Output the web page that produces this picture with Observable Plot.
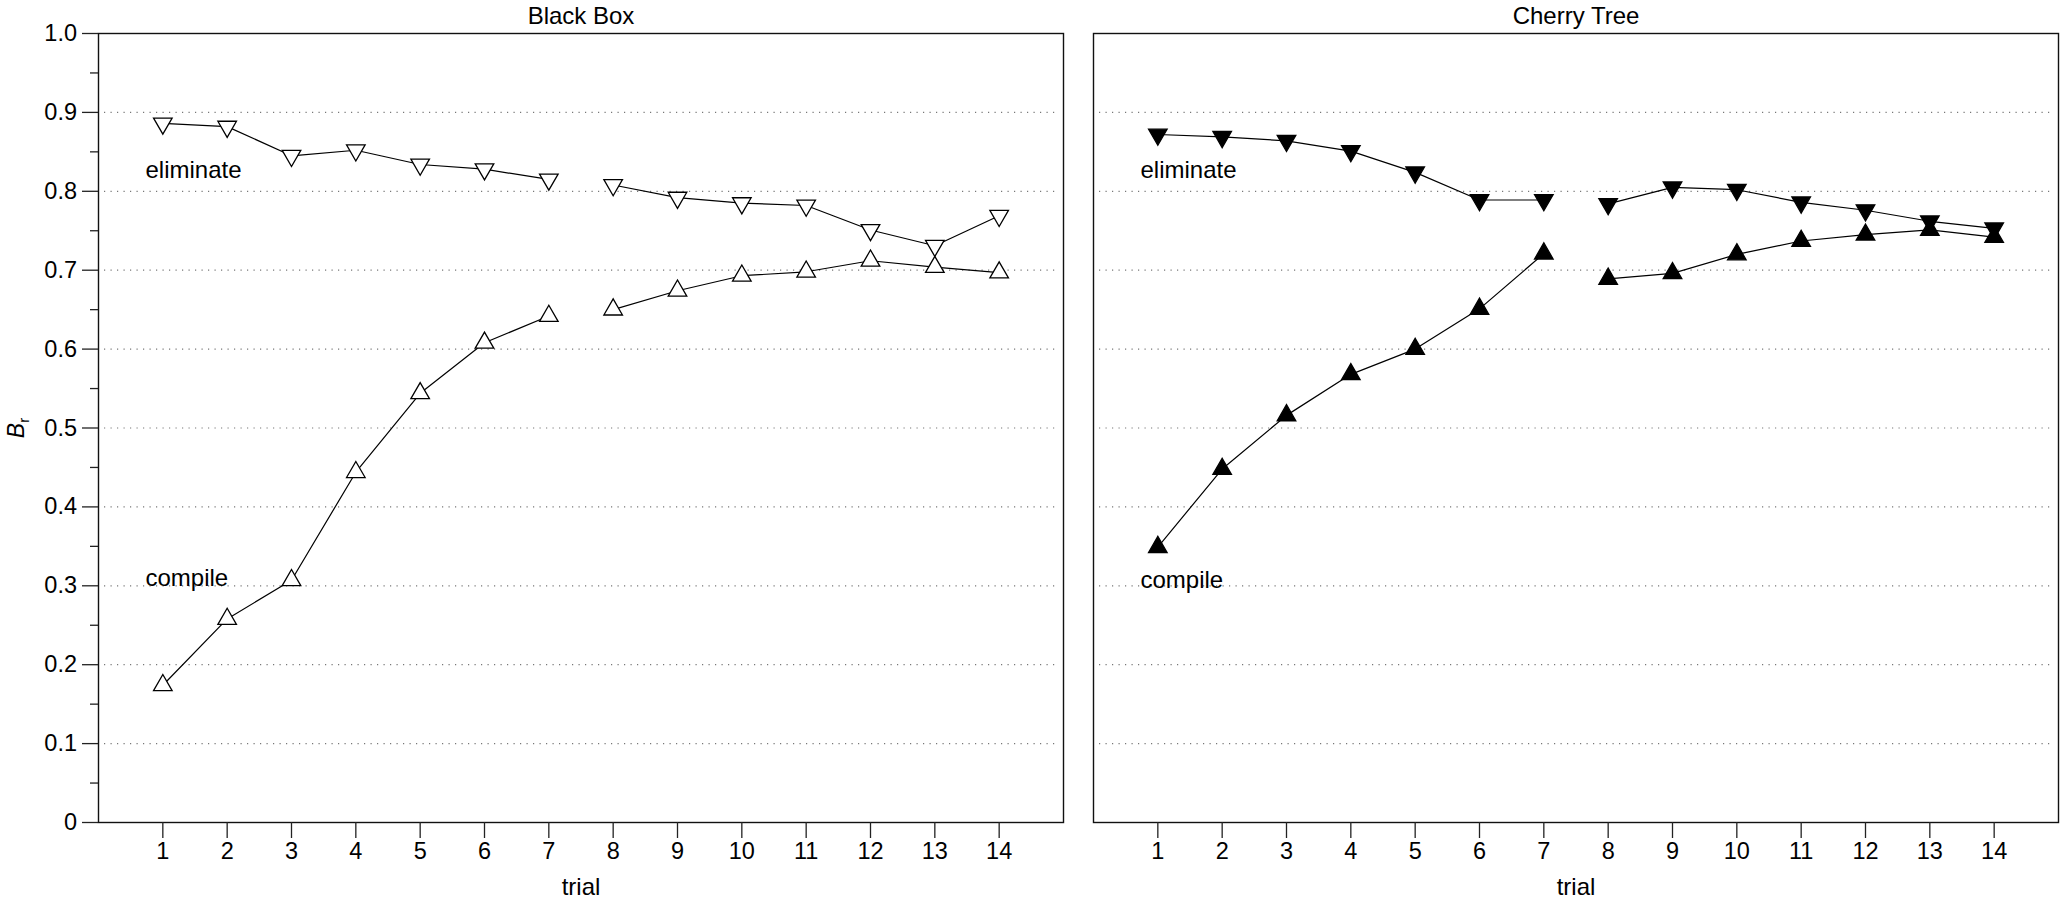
<!DOCTYPE html>
<html>
<head>
<meta charset="utf-8">
<script src="https://cdn.jsdelivr.net/npm/d3@7"></script>
<script src="https://cdn.jsdelivr.net/npm/@observablehq/plot@0.6"></script>
<style>
  body { margin: 0; background: #fff; }
  #chart svg { display: block; }
</style>
</head>
<body>
<div id="chart"></div>
<script>
// ---- data ----
const panels = ["Black Box", "Cherry Tree"];
const trials = [1, 2, 3, 4, 5, 6, 7, 8, 9, 10, 11, 12, 13, 14];
const blackBoxCompile   = [0.174, 0.258, 0.307, 0.444, 0.544, 0.608, 0.642, 0.650, 0.674, 0.693, 0.698, 0.712, 0.704, 0.697];
const blackBoxEliminate = [0.886, 0.882, 0.845, 0.852, 0.834, 0.828, 0.815, 0.808, 0.792, 0.785, 0.782, 0.751, 0.731, 0.769];
const cherryCompile     = [0.349, 0.448, 0.516, 0.568, 0.600, 0.651, 0.721, 0.689, 0.696, 0.720, 0.737, 0.745, 0.751, 0.742];
const cherryEliminate   = [0.872, 0.869, 0.864, 0.851, 0.824, 0.789, 0.789, 0.784, 0.805, 0.802, 0.786, 0.776, 0.762, 0.753];
const yTicks = [0, 0.1, 0.2, 0.3, 0.4, 0.5, 0.6, 0.7, 0.8, 0.9, 1.0];
const yMinorTicks = [0.05, 0.15, 0.25, 0.35, 0.45, 0.55, 0.65, 0.75, 0.85, 0.95];
const gridValues = [0.1, 0.2, 0.3, 0.4, 0.5, 0.6, 0.7, 0.8, 0.9];
const seriesLabels = [
  {panel: "Black Box", text: "eliminate", x: 0.73, y: 0.827},
  {panel: "Black Box", text: "compile", x: 0.73, y: 0.309},
  {panel: "Cherry Tree", text: "eliminate", x: 0.73, y: 0.827},
  {panel: "Cherry Tree", text: "compile", x: 0.73, y: 0.307}
];

// ---- build table ----
function rows(panel, series, values) {
  return trials.map((t, i) => ({panel, series, trial: t, value: values[i], block: t <= 7 ? "a" : "b"}));
}
const bbC = rows("Black Box", "compile", blackBoxCompile);
const bbE = rows("Black Box", "eliminate", blackBoxEliminate);
const ctC = rows("Cherry Tree", "compile", cherryCompile);
const ctE = rows("Cherry Tree", "eliminate", cherryEliminate);
const all = [...bbC, ...bbE, ...ctC, ...ctE];

// downward-pointing triangle symbol (mirror of d3.symbolTriangle)
const triangleDown = {
  draw(context, size) {
    const y = -Math.sqrt(size / (Math.sqrt(3) * 3));
    context.moveTo(0, -y * 2);
    context.lineTo(-Math.sqrt(3) * y, y);
    context.lineTo(Math.sqrt(3) * y, y);
    context.closePath();
  }
};

const FONT = "'Liberation Sans', Arial, Helvetica, sans-serif";
const R = 6.9;

const chart = Plot.plot({
  width: 2067,
  height: 906,
  marginLeft: 98,
  marginRight: 8,
  marginTop: 33,
  marginBottom: 84,
  style: {fontFamily: FONT, fontSize: "23px", color: "#000", background: "#fff"},
  fx: {domain: panels, paddingInner: 0.0301, paddingOuter: 0, axis: null, label: null},
  x: {domain: [0, 15], label: null},
  y: {domain: [0, 1], label: null},
  marks: [
    Plot.ruleY(gridValues, {stroke: "#777", strokeWidth: 1.2, strokeDasharray: "1.2,5.3", insetLeft: 6, insetRight: 6}),
    Plot.frame({stroke: "#111", strokeWidth: 1.4}),
    Plot.axisY(yTicks, {tickSize: 16, tickPadding: 5.5, stroke: "#222", strokeWidth: 1.3,
      tickFormat: d => d === 0 ? "0" : d.toFixed(1), fontSize: 23.5, label: null}),
    Plot.axisY(yMinorTicks, {tickSize: 8, stroke: "#222", strokeWidth: 1.3, tickFormat: () => "", label: null}),
    Plot.axisX(trials, {tickSize: 16, tickPadding: 4, stroke: "#222", strokeWidth: 1.3,
      tickFormat: d => String(d), fontSize: 23.5, label: null}),
    Plot.text(panels, {fx: d => d, text: d => d, frameAnchor: "top", dy: -17, lineAnchor: "middle", fontSize: 24}),
    Plot.text(["trial"], {frameAnchor: "bottom", dy: 65, lineAnchor: "middle", fontSize: 24}),
    Plot.line(all, {x: "trial", y: "value", fx: "panel", z: d => d.series + d.block, stroke: "#000", strokeWidth: 1.2}),
    Plot.dot(bbC, {x: "trial", y: "value", fx: "panel", symbol: "triangle", r: R, fill: "#fff", stroke: "#000", strokeWidth: 1.3}),
    Plot.dot(bbE, {x: "trial", y: "value", fx: "panel", symbol: triangleDown, r: R, fill: "#fff", stroke: "#000", strokeWidth: 1.3}),
    Plot.dot(ctC, {x: "trial", y: "value", fx: "panel", symbol: "triangle", r: R, fill: "#000", stroke: "#000", strokeWidth: 1.3}),
    Plot.dot(ctE, {x: "trial", y: "value", fx: "panel", symbol: triangleDown, r: R, fill: "#000", stroke: "#000", strokeWidth: 1.3}),
    Plot.text(seriesLabels, {fx: "panel", x: "x", y: "y", text: "text", textAnchor: "start", lineAnchor: "middle", fontSize: 24})
  ]
});

// y-axis title: italic B with subscript r
const svg = d3.select(chart);
const t = svg.append("text")
  .attr("transform", "translate(24,428) rotate(-90)")
  .attr("text-anchor", "middle")
  .attr("font-family", FONT)
  .attr("font-size", 23)
  .attr("fill", "#000");
t.append("tspan").attr("font-style", "italic").text("B");
t.append("tspan").attr("font-size", 15).attr("dy", 5).text("r");

document.getElementById("chart").appendChild(chart);
</script>
</body>
</html>
